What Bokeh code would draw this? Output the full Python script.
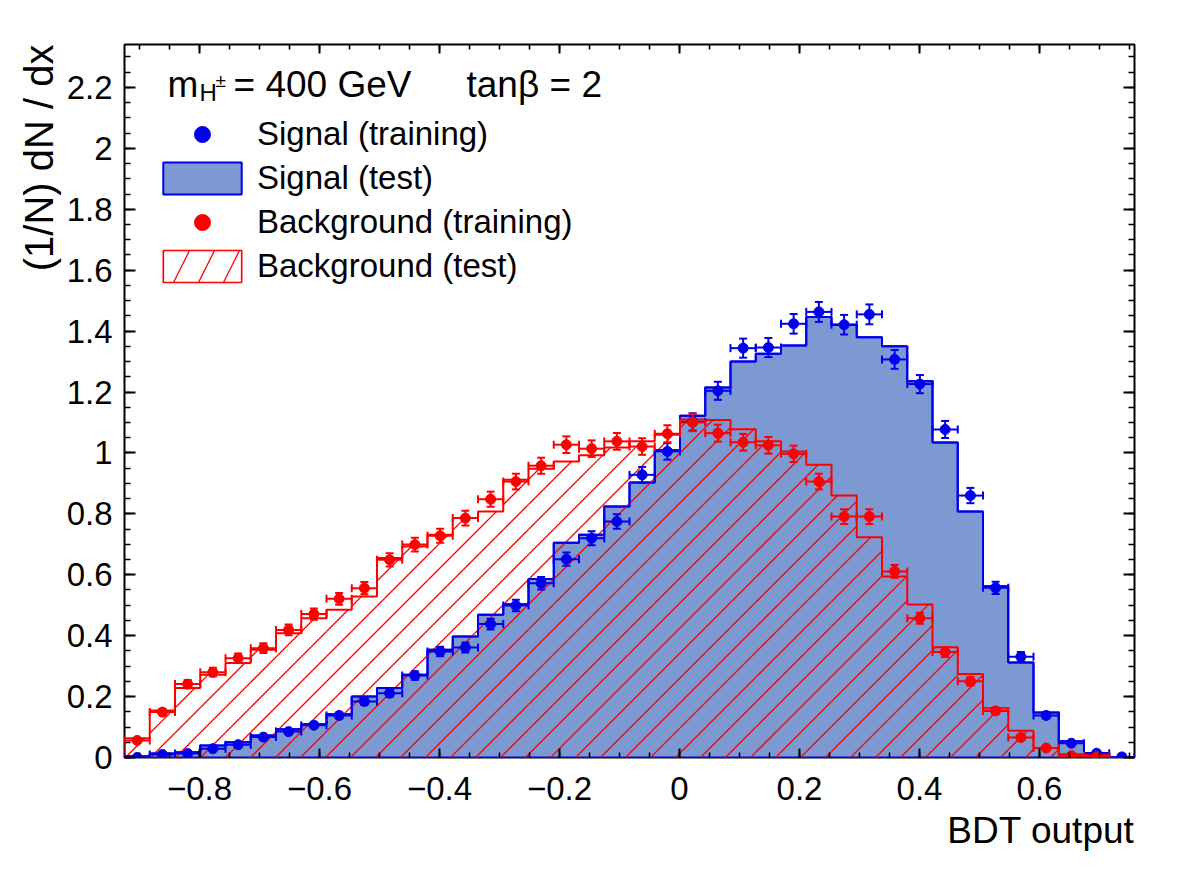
import math
import numpy as np
from bokeh.plotting import figure
from bokeh.models import (Range1d, LinearAxis, SingleIntervalTicker, CustomJSTickFormatter,
                          Label, Legend, LegendItem, Title)
from bokeh.embed import file_html
from bokeh.resources import INLINE

# ---- BDT output distributions (normalised, 40 bins) ----
x_lo, x_hi = -0.925, 0.7583
n_bins = 40

sig_test = [0.004, 0.013, 0.017, 0.039, 0.050, 0.072, 0.093, 0.109, 0.142, 0.200,
            0.228, 0.272, 0.354, 0.397, 0.469, 0.503, 0.586, 0.705, 0.731, 0.824,
            0.903, 1.009, 1.122, 1.215, 1.300, 1.326, 1.353, 1.446, 1.421, 1.380,
            1.350, 1.235, 1.034, 0.808, 0.562, 0.312, 0.148, 0.053, 0.014, 0.000]

sig_train = [0.000, 0.010, 0.013, 0.029, 0.042, 0.067, 0.085, 0.106, 0.138, 0.184,
             0.211, 0.269, 0.348, 0.361, 0.438, 0.499, 0.572, 0.651, 0.720, 0.775,
             0.928, 1.005, 1.102, 1.204, 1.344, 1.346, 1.424, 1.463, 1.421, 1.455,
             1.307, 1.226, 1.077, 0.860, 0.557, 0.331, 0.138, 0.047, 0.014, 0.002]

bkg_test = [0.063, 0.154, 0.228, 0.272, 0.310, 0.354, 0.408, 0.457, 0.485, 0.529,
            0.655, 0.693, 0.731, 0.786, 0.808, 0.912, 0.948, 0.972, 0.992, 1.018,
            1.038, 1.060, 1.110, 1.108, 1.078, 1.038, 1.005, 0.961, 0.860, 0.723,
            0.594, 0.502, 0.362, 0.274, 0.162, 0.088, 0.031, 0.011, 0.008, 0.000]

bkg_train = [0.056, 0.149, 0.241, 0.280, 0.326, 0.359, 0.419, 0.471, 0.521, 0.556,
             0.649, 0.699, 0.728, 0.786, 0.848, 0.906, 0.958, 1.027, 1.014, 1.038,
             1.021, 1.063, 1.100, 1.065, 1.035, 1.025, 0.997, 0.906, 0.791, 0.791,
             0.611, 0.457, 0.346, 0.250, 0.153, 0.066, 0.031, 0.006, 0.003, 0.000]

# relative statistical uncertainty scale of the training counts
err_scale = 0.027

SIG_LINE = "#0000ee"
SIG_FILL = "#7d99d1"
BKG_LINE = "#ff0000"
FONT = "Liberation Sans"

edges = np.linspace(x_lo, x_hi, n_bins + 1)
centers = 0.5 * (edges[:-1] + edges[1:])

y_lo, y_hi = 0.0, 2.341

# frame geometry (pixels)
W, H = 1182, 880
FL, FR, FT, FB = 124, 1134, 44, 757
PX_X = (FR - FL) / (x_hi - x_lo)   # pixels per x unit
PX_Y = (FB - FT) / (y_hi - y_lo)   # pixels per y unit


def dx(px):
    return x_lo + (px - FL) / PX_X


def dy(py):
    return y_lo + (FB - py) / PX_Y


def step_outline(vals):
    xs, ys = [edges[0]], [0.0]
    for i, v in enumerate(vals):
        xs += [edges[i], edges[i + 1]]
        ys += [v, v]
    xs.append(edges[-1])
    ys.append(0.0)
    return xs, ys


def hatch_segments(vals, spacing=25.0, phase=1.0):
    """45-degree '/' hatch lines clipped to the histogram bars."""
    x0s, y0s, x1s, y1s = [], [], [], []
    for a, b, v in zip(edges[:-1], edges[1:], vals):
        A = (a - x_lo) * PX_X
        B = (b - x_lo) * PX_X
        V = (v - y_lo) * PX_Y
        if V <= 0:
            continue
        k0 = math.floor((A - V - phase) / spacing)
        k1 = math.ceil((B - phase) / spacing)
        for k in range(k0, k1 + 1):
            c = phase + k * spacing
            X0 = max(A, c)
            X1 = min(B, V + c)
            if X1 > X0:
                x0s.append(x_lo + X0 / PX_X)
                y0s.append(y_lo + (X0 - c) / PX_Y)
                x1s.append(x_lo + X1 / PX_X)
                y1s.append(y_lo + (X1 - c) / PX_Y)
    return x0s, y0s, x1s, y1s


p = figure(width=W, height=H, x_range=Range1d(x_lo, x_hi), y_range=Range1d(y_lo, y_hi),
           output_backend="svg", toolbar_location=None,
           x_axis_location=None, y_axis_location=None,
           min_border_left=FL, min_border_right=W - FR,
           min_border_top=FT, min_border_bottom=H - FB)
p.background_fill_color = "white"
p.border_fill_color = "white"
p.outline_line_color = "black"
p.outline_line_width = 2
for g in p.grid:
    g.visible = False

# ---- axes: ticks inside on all four sides ----
label_fmt = CustomJSTickFormatter(code="""
    const v = Math.round(tick * 10) / 10;
    if (v === 0) { return "0"; }
    const s = Math.abs(v).toString();
    return v < 0 ? "\\u2212" + s : s;
""")
blank_fmt = CustomJSTickFormatter(code="return '';")


def make_axis(formatter, tick_major, tick_minor, show_labels):
    return LinearAxis(ticker=SingleIntervalTicker(interval=0.2, num_minor_ticks=4),
                      formatter=formatter,
                      axis_line_color=None,
                      major_tick_in=tick_major, major_tick_out=0,
                      minor_tick_in=tick_minor, minor_tick_out=0,
                      major_tick_line_width=2, minor_tick_line_width=1.6,
                      major_tick_line_color="black", minor_tick_line_color="black",
                      major_label_text_font=FONT,
                      major_label_text_font_size="33px" if show_labels else "1px",
                      major_label_text_color="black")


ax_b = make_axis(label_fmt, 9, 5, True)
ax_b.major_label_standoff = 19
ax_l = make_axis(label_fmt, 11, 6, True)
ax_l.major_label_standoff = 12
ax_t = make_axis(blank_fmt, 9, 5, False)
ax_r = make_axis(blank_fmt, 11, 6, False)
p.add_layout(ax_b, "below")
p.add_layout(ax_l, "left")
p.add_layout(ax_t, "above")
p.add_layout(ax_r, "right")

# ---- axis titles, aligned to the far ends of the axes ----
p.add_layout(Title(text="BDT output", align="right", text_font=FONT,
                   text_font_size="37px", text_font_style="normal",
                   text_color="black", standoff=10), "below")
p.add_layout(Title(text="(1/N) dN / dx", align="right", text_font=FONT,
                   text_font_size="40px", text_font_style="normal",
                   text_color="black", standoff=6), "left")

# ---- test-sample histograms ----
sx, sy = step_outline(sig_test)
sig_hist = p.patch(sx, sy, fill_color=SIG_FILL, line_color=SIG_LINE, line_width=2)

hx0, hy0, hx1, hy1 = hatch_segments(bkg_test)
p.segment(x0=hx0, y0=hy0, x1=hx1, y1=hy1, line_color=BKG_LINE, line_width=1.3)

p.line(sx, sy, line_color=SIG_LINE, line_width=2)
bx, by = step_outline(bkg_test)
p.line(bx, by, line_color=BKG_LINE, line_width=2)

# legend key for the hatched background histogram (draws nothing in the frame)
bkg_key = p.patch(x=[np.nan], y=[np.nan], fill_color=None, line_color=BKG_LINE,
                  line_width=1.6, hatch_pattern="/", hatch_color=BKG_LINE,
                  hatch_scale=50, hatch_weight=1.3)


# ---- training-sample points with error bars ----
def draw_points(vals, color, keep_zero):
    v = np.asarray(vals)
    mask = np.ones_like(v, dtype=bool) if keep_zero else v > 0
    c = centers[mask]
    v = v[mask]
    lo = edges[:-1][mask]
    hi = edges[1:][mask]
    e = err_scale * np.sqrt(v)
    p.segment(x0=lo, y0=v, x1=hi, y1=v, line_color=color, line_width=2)
    p.segment(x0=c, y0=v - e, x1=c, y1=v + e, line_color=color, line_width=2)
    p.scatter(x=np.concatenate([lo, hi]), y=np.concatenate([v, v]), marker="dash",
              angle=np.pi / 2, size=8, line_color=color, line_width=2)
    p.scatter(x=np.concatenate([c, c]), y=np.concatenate([v - e, v + e]), marker="dash",
              size=8, line_color=color, line_width=2)
    return p.scatter(x=c, y=v, marker="circle", size=10, fill_color=color,
                     line_color=color)


sig_pts = draw_points(sig_train, SIG_LINE, True)
bkg_pts = draw_points(bkg_train, BKG_LINE, False)

# ---- legend ----
legend = Legend(items=[LegendItem(label="Signal (training)", renderers=[sig_pts]),
                       LegendItem(label="Signal (test)", renderers=[sig_hist]),
                       LegendItem(label="Background (training)", renderers=[bkg_pts]),
                       LegendItem(label="Background (test)", renderers=[bkg_key])],
                location=(29, FB - 286), orientation="vertical",
                glyph_width=98, glyph_height=40, label_height=32, spacing=4,
                padding=0, margin=0, label_standoff=6,
                label_text_font=FONT, label_text_font_size="33px",
                label_text_color="black",
                border_line_color=None, background_fill_alpha=0)
p.add_layout(legend)


# ---- heading: m_{H±} = 400 GeV   tanβ = 2 ----
def add_text(px, py, text, size):
    p.add_layout(Label(x=dx(px), y=dy(py), text=text, text_font=FONT,
                       text_font_size=size, text_align="left",
                       text_baseline="alphabetic", text_color="black"))


add_text(167, 84, "m", "37px")
add_text(199, 92, "H", "24px")
add_text(215, 80, "±", "19px")
add_text(233, 84, "= 400 GeV", "37px")
add_text(466, 84, "tanβ = 2", "37px")

open("out.html", "w").write(file_html(p, INLINE))
